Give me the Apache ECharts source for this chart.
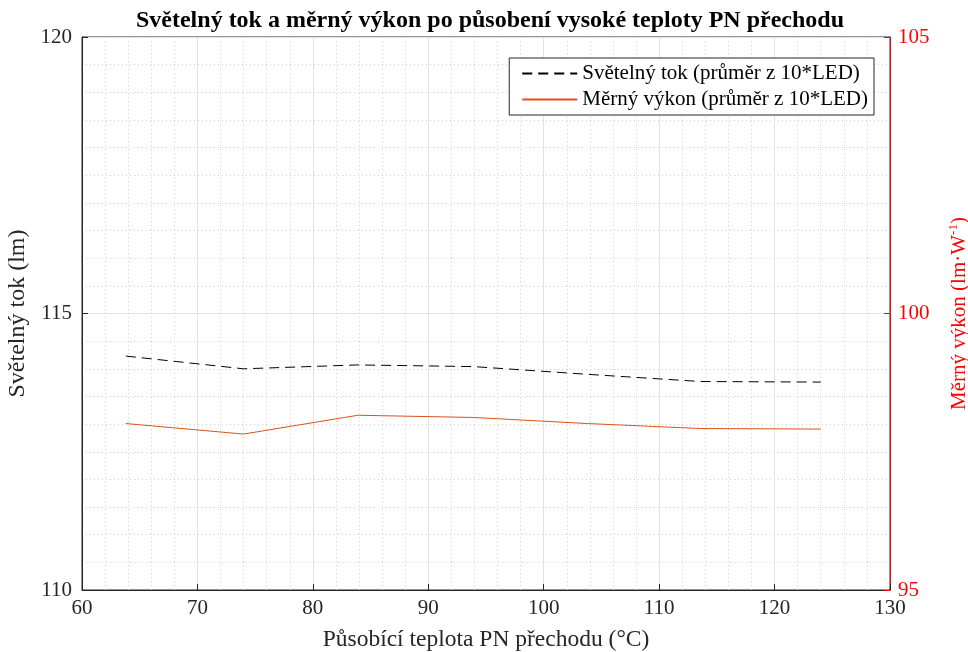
<!DOCTYPE html>
<html><head><meta charset="utf-8">
<script src="https://cdn.jsdelivr.net/npm/echarts@6/dist/echarts.min.js"></script>
<style>html,body{margin:0;padding:0;background:#fff}#c{width:968px;height:652px}</style>
</head><body><div id="c"></div>
<script>
const temps = [63.8, 74.0, 83.9, 93.9, 103.8, 113.6, 124.0];
const flux = [114.23, 114.00, 114.07, 114.04, 113.90, 113.77, 113.76];
const efficacy = [98.01, 97.82, 98.16, 98.12, 98.01, 97.92, 97.91];
const seriesNames = ['Světelný tok (průměr z 10*LED)', 'Měrný výkon (průměr z 10*LED)'];

const F = 'Liberation Serif, Times New Roman, serif';
const chart = echarts.init(document.getElementById('c'));
chart.setOption({
  animation: false,
  backgroundColor: '#fff',
  title: {text: 'Světelný tok a měrný výkon po působení vysoké teploty PN přechodu', left: 485, textAlign: 'center', top: 4,
    textStyle: {fontFamily: F, fontWeight: 'bold', fontSize: 24, color: '#000'}},
  grid: {left: 82, right: 78, top: 37, bottom: 62, outerBoundsMode: 'none', containLabel: false,
    show: true, borderColor: '#262626', borderWidth: 1},
  legend: {right: 94, top: 58, orient: 'vertical', itemGap: 5, itemWidth: 55, itemHeight: 10,
    backgroundColor: '#fff', borderColor: '#262626', borderWidth: 1, padding: [5, 6, 5, 12],
    itemStyle: {opacity: 0},
    textStyle: {fontFamily: F, fontSize: 21, color: '#000'}, data: seriesNames},
  xAxis: {type: 'value', min: 60, max: 130, interval: 10,
    name: 'Působící teplota PN přechodu (°C)', nameLocation: 'middle', nameGap: 38,
    nameTextStyle: {fontFamily: F, fontSize: 23.5, color: '#262626'},
    axisLine: {lineStyle: {color: '#262626'}},
    axisTick: {inside: true, length: 6, lineStyle: {color: '#262626'}},
    axisLabel: {fontFamily: F, fontSize: 21, color: '#262626', margin: 8},
    splitLine: {show: true, lineStyle: {color: '#e3e3e3', width: 1}},
    minorTick: {show: false, splitNumber: 5},
    minorSplitLine: {show: true, lineStyle: {color: '#cfcfcf', type: [1, 3]}}},
  yAxis: [
    {type: 'value', min: 110, max: 120, interval: 5, position: 'left',
      name: 'Světelný tok (lm)', nameLocation: 'middle', nameGap: 43,
      nameTextStyle: {fontFamily: F, fontSize: 24, color: '#262626'},
      axisLine: {show: true, lineStyle: {color: '#262626'}},
      axisTick: {show: true, inside: true, length: 6, lineStyle: {color: '#262626'}},
      axisLabel: {fontFamily: F, fontSize: 21, color: '#262626', margin: 10},
      splitLine: {show: true, lineStyle: {color: '#e3e3e3', width: 1}},
      minorTick: {show: false, splitNumber: 10},
      minorSplitLine: {show: true, lineStyle: {color: '#cfcfcf', type: [1, 3]}}},
    {type: 'value', min: 95, max: 105, interval: 5, position: 'right',
      name: '{a|Měrný výkon (lm·W}{s|-1}{a|)}', nameLocation: 'middle', nameGap: 57,
      nameTextStyle: {fontFamily: F, fontSize: 21, color: '#ff0000',
        rich: {a: {fontFamily: F, fontSize: 21, color: '#ff0000'}, s: {fontFamily: F, fontSize: 13, color: '#ff0000', padding: [0, 0, 11, 0]}}},
      axisLine: {show: true, lineStyle: {color: '#ff0000'}},
      axisTick: {show: true, inside: true, length: 6, lineStyle: {color: '#ff0000'}},
      axisLabel: {fontFamily: F, fontSize: 21, color: '#ff0000', margin: 8},
      splitLine: {show: false}}
  ],
  series: [
    {name: seriesNames[0], type: 'line', yAxisIndex: 0, symbol: 'none',
      data: temps.map((t, i) => [t, flux[i]]),
      lineStyle: {color: '#000', width: 1, type: [10, 6]}, itemStyle: {color: '#000'}},
    {name: seriesNames[1], type: 'line', yAxisIndex: 1, symbol: 'none',
      data: temps.map((t, i) => [t, efficacy[i]]),
      lineStyle: {color: '#d95319', width: 1}, itemStyle: {color: '#d95319'}}
  ]
});
</script></body></html>
